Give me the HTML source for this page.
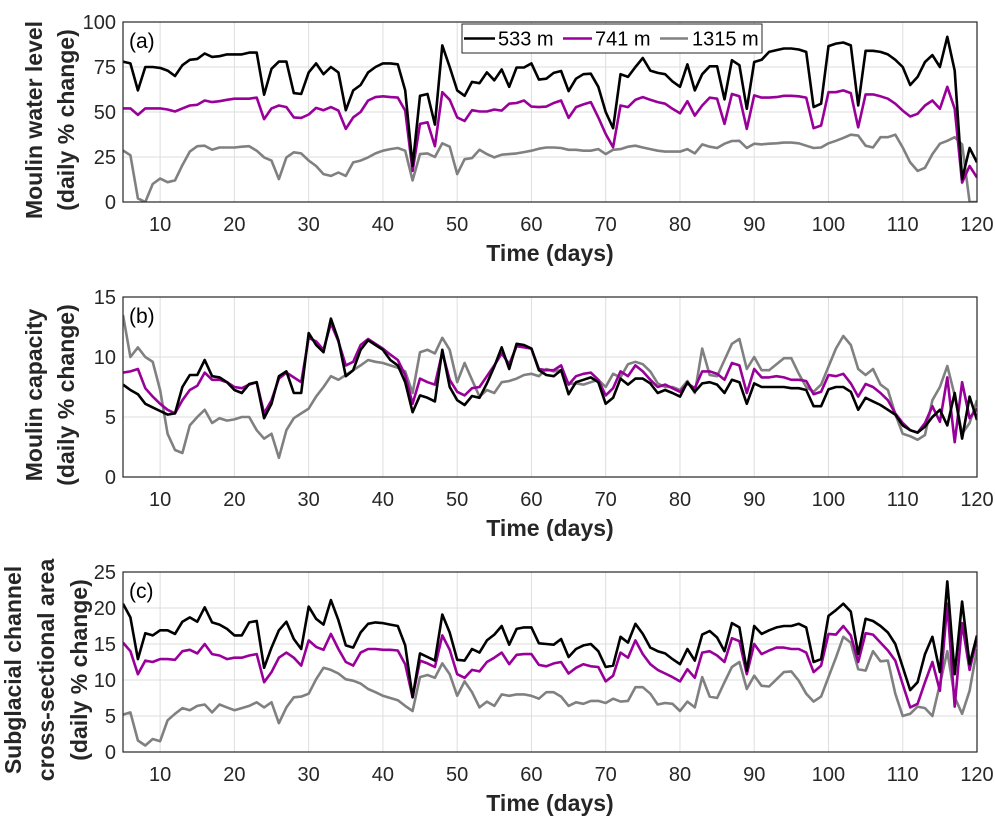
<!DOCTYPE html>
<html><head><meta charset="utf-8"><style>
html,body{margin:0;padding:0;background:#fff;}
svg{display:block;font-family:"Liberation Sans",Arial,sans-serif;}
</style></head><body>
<svg id="chart" width="995" height="819" viewBox="0 0 995 819" xmlns="http://www.w3.org/2000/svg"></svg>
<script>
const xTicks=[10,20,30,40,50,60,70,80,90,100,110,120];
const aTicks=[0,25,50,75,100];
const bTicks=[0,5,10,15];
const cTicks=[0,5,10,15,20,25];
const seriesNames=["533 m","741 m","1315 m"];
const dayStart=5;
const aBlack=[78,77,62,75,75,74.5,73,70,76,79,79.5,82.5,80.6,81,82,82,82,83,83,59.6,74,78,78,60.5,60,72,77,71,75,72,51,62,65,72,75,77,77,76.5,62,20,59,60,43,87,75,62,59,66.7,66,72,67.6,73.6,64,74.7,74.7,77,68,68.5,71.7,72.8,61.6,68.5,71,71.3,64,50,41,71,69.5,75,80,73,71.7,71,67,64,76.5,62,71,75.4,75.4,57,78.8,76,51.8,77.8,79,83.4,84.4,85.3,85.3,84.7,83.4,52.7,54.6,86.6,88,88.6,87,53.6,84,84,83.4,82,79,75,65,69.5,77.8,81.6,75,91.8,73,12.7,30,22];
const aPurple=[52,52,48.4,52,52,52,51.4,50.3,52,53.6,54,56.4,55.5,56,56.8,57.4,57.4,57.4,58,46,52,53.6,52.7,47,46.7,48.6,52.3,51,52.7,50.8,40.6,47,50,56.4,58.3,58.7,58.3,58,50.8,17.3,43.4,44.3,31,61,56.8,47,45,51,50.3,50.3,51.4,50.8,54.6,55,56.4,53,52.7,53,55,56.4,46.7,52.7,54.2,55.5,47,37.8,30.4,53.6,52.7,56.8,58.3,56.8,55.5,54.6,51.8,49.3,56,48,53.6,58,57.4,43.4,60,58.7,40.6,59.2,58,58,58.3,59,59,58.7,58,41,42.5,61,61,62,60.5,41.5,59.8,59.8,58.7,57.4,54.6,50.8,47.5,49,53.6,56.4,51.8,64,51.8,10.8,20,13.6];
const aGray=[28.6,26,2,0,10,13,11,12,20.5,28,31,31.3,29,30.3,30.3,30.3,30.7,31,28.5,24.8,23,12.7,24.8,27.6,27,23,20,15.5,14.5,16.4,14.5,22,23,24.8,27,28.5,29.4,30,28.5,12,26.6,27,25,32.6,30.7,15.5,23.8,24.4,29,26.6,24.8,26.3,26.6,27,27.7,28.5,29.6,30.3,30.3,30,29,29,28.5,28.5,29.4,26.6,29,29.4,30.7,31.3,30.3,29.4,28.5,28,28,28,29.4,27,32,30.7,30,32.4,33.9,34,30,32.4,32,32.4,32.6,33,33,32.6,31.3,30,30.3,32.6,34,35.6,37.4,36.9,31.3,30.3,36,36,37.4,30.3,22,17.3,19,26.6,32.4,34,36,32,0,0,0.5];
const bBlack=[7.7,7.25,6.9,6.1,5.8,5.5,5.2,5.3,7.5,8.5,8.5,9.75,8.4,8.3,7.9,7.25,7,7.75,7.9,4.9,6.1,8.4,8.8,7,7,12,11,10.4,13.2,11.4,8.4,8.9,10.6,11.4,11,10.6,9.75,9.3,7.9,5.4,6.8,6.6,6.3,10.6,7.5,6.4,6,6.75,6.6,7.8,9.2,10.8,9,11.1,11,10.7,8.9,8.5,8.4,8.9,6.9,7.9,8.1,8.3,7.9,6.1,6.6,8.2,7.7,8.2,8.2,7.8,7,7.25,7,6.7,7.9,7.1,7.8,7.9,7.7,7,8.1,7.9,6.1,7.8,7.5,7.5,7.5,7.5,7.4,7.4,7.25,5.9,5.9,7.3,7.5,7.5,7.1,5.6,6.6,6.3,6,5.6,5.2,4.3,3.9,3.7,4.2,5,5.6,4.3,7,3.2,6.7,4.75];
const bPurple=[8.7,8.8,9,7.4,6.7,6.1,5.6,5.3,6.4,7.25,7.6,8.7,8.1,8.1,7.9,7.5,7.4,7.7,7.9,5.3,6.4,8.2,8.7,8.3,7.9,11.6,11.3,10.6,12.8,11.3,9.3,9.6,11,11.5,11.1,10.7,10.2,9.75,8.5,6.1,8.2,7.9,7.7,10.4,8.1,7.1,6.8,7.4,7.5,8.4,9.3,10.3,9.4,10.9,10.8,10.7,9,8.9,8.9,9.3,7.7,8.4,8.6,8.7,8.1,6.8,7.4,8.8,8.4,9.3,8.8,8.1,7.5,7.7,7.4,7.1,7.8,7.4,8.8,8.8,8.6,8.1,9.5,9.3,7,9,8.3,8.3,8.4,8.3,8.1,8.1,8,6.9,7.1,8.5,8.4,8.6,7.8,6.7,7.75,7.5,7,6.4,5.3,4.5,3.9,3.7,4.5,5.9,4.6,8.3,2.9,7.9,4.9,5.7];
const bGray=[13.5,10,10.8,10,9.6,7.25,3.6,2.25,2,4.3,5,5.6,4.5,4.9,4.7,4.8,5,5,3.9,3.2,3.6,1.6,3.9,4.9,5.3,5.7,6.7,7.5,8.4,8.1,8.5,8.9,9.3,9.75,9.6,9.5,9.3,9.1,8.8,7,10.4,10.6,10.3,11.6,10.6,7.9,9.5,8.1,6.7,7.25,7,7.9,8,8.2,8.5,8.6,8.4,9,8.8,8.9,7.75,7.8,7.7,7.9,8.1,7.5,8.6,8.3,9.4,9.6,9.4,8.8,7.8,7.5,7.5,7.25,8,7,10.7,8.5,8.4,9.75,11.1,11.5,9,10,8.9,8.9,9.4,9.9,9.9,8.6,7.5,7.1,7.7,9.2,10.7,11.75,11,9,8.5,9,7.7,7.25,5.25,3.6,3.4,3.1,3.5,6.4,7.5,9.25,6.8,3.6,4.5,6.4];
const cBlack=[20.6,18.7,12.9,16.5,16.2,16.9,16.9,16.4,18.1,18.7,18.1,20.1,18,17.7,17.1,16.2,16.2,18,18.2,11.7,14.5,16.9,18.1,15.7,14.3,20.2,18.5,17.7,21.1,18.3,14.8,14.5,16.6,17.8,18,17.9,17.7,17.5,14.8,7.6,13.7,13.2,12.7,19.1,16.6,12.8,12.7,14.3,13.8,15.5,16.3,17.5,14.9,17.1,17.3,17.3,15.1,15,14.9,15.7,13.2,14.3,14.8,15,14,11.8,12,16,15.2,17.8,16.4,14.5,14,13.7,12.9,12.2,14.3,12.7,16.3,16.8,15.9,14,17.9,17.3,11.3,17.5,16.4,16.9,17.3,17.5,17.5,17.8,17.3,12.5,12.9,18.9,19.7,20.6,19.5,13.6,18.5,18.2,17.5,16.6,15,11.8,8.6,9.7,13.6,16,11.1,23.7,10.8,20.9,12.2,16.2];
const cPurple=[15.2,14,10.8,12.7,12.5,12.9,12.9,12.8,14,14.2,13.7,15,13.6,13.4,12.9,13.1,13.1,13.4,13.6,9.7,11.1,13.1,13.8,13.1,12,15.5,14.6,14.2,16.4,14.3,12.5,12,13.8,14.3,14.3,14.2,14.2,14.1,12.2,7.6,12.7,12.3,11.8,16.2,14.2,10.8,10.3,11.4,11.2,12.5,13.1,13.8,12.2,13.5,13.6,13.6,12.1,11.9,12.3,12.5,10.9,11.7,12.2,11.9,11.8,9.8,10.6,13.8,13.1,15.5,13.6,12.2,11.4,10.9,10.4,9.8,11.5,10.3,13.8,14,13.4,12.5,15.8,15.4,10.8,15,13.6,14.1,14.5,14.5,14.3,14.3,13.8,11.1,12,16.4,16.3,17.5,16.2,12.5,16.5,16.3,15.2,14.1,12.7,9.4,6.2,6.7,9.7,12.5,8.5,20.6,6.3,17.9,11.4,15.8];
const cGray=[5.2,5.5,1.6,0.9,1.8,1.5,4.4,5.3,6.1,5.8,6.4,6.6,5.5,6.6,6.2,5.8,6.1,6.4,6.9,6.2,6.9,4,6.2,7.6,7.7,8.1,10.1,11.7,11.4,10.9,10.1,9.9,9.5,8.75,8.3,7.8,7.5,7.2,6.4,5.7,10.4,10.7,10.3,12.3,10.8,7.8,9.8,8.3,6.2,7,6.4,8,7.8,8,8,7.8,7.4,8.3,8.3,7.7,6.4,6.9,6.7,7.1,7.1,6.8,7.4,7,7.1,9,9,8.1,6.6,6.8,6.7,5.7,7,6.2,10.4,7.7,7.5,9.7,11.8,12.5,8.75,10.6,9.2,9.1,10.1,11.1,11.2,9.9,8.1,7,7.7,10.4,13.1,16,15.2,11.5,11.3,14,12.6,12.7,8.1,5,5.3,6.3,6.1,5,9.4,14,7.6,5.3,8.5,14.3];

const NS="http://www.w3.org/2000/svg";
const svg=document.getElementById('chart');
const X0=123,X1=977;
function xS(d){return X0+(d-5)*(X1-X0)/115;}
function mk(tag,attrs,parent){const e=document.createElementNS(NS,tag);for(const k in attrs)e.setAttribute(k,attrs[k]);(parent||svg).appendChild(e);return e;}
const colors=["#000000","#990099","#808080"];
const panels=[
 {id:"a",top:22,bot:202,max:100,ticks:aTicks,series:[aBlack,aPurple,aGray],ylab:["Moulin water level","(daily % change)"],ylx:[33,65]},
 {id:"b",top:297,bot:477,max:15,ticks:bTicks,series:[bBlack,bPurple,bGray],ylab:["Moulin capacity","(daily % change)"],ylx:[33,65]},
 {id:"c",top:572,bot:752,max:25,ticks:cTicks,series:[cBlack,cPurple,cGray],ylab:["Subglacial channel","cross-sectional area","(daily % change)"],ylx:[12,45,78]}
];
panels.forEach(p=>{
  const yS=v=>p.bot-(v/p.max)*(p.bot-p.top);
  const g=mk('g',{});
  
  
  const clipId='clip'+p.id;
  const cp=mk('clipPath',{id:clipId},g);
  mk('rect',{x:X0,y:p.top,width:X1-X0,height:p.bot-p.top},cp);
  mk('rect',{x:X0,y:p.top,width:X1-X0,height:p.bot-p.top,fill:'#fff'},g);
  xTicks.forEach(t=>{
    const l=mk('line',{x1:xS(t),x2:xS(t),y1:p.top,y2:p.bot,stroke:'#dedede','stroke-width':1},g);
    
    
    const tx=mk('text',{x:xS(t),y:p.bot+29,'text-anchor':'middle','font-size':20,fill:'#262626'},g);
    tx.textContent=t;
    
    
  });
  p.ticks.forEach(t=>{
    const l=mk('line',{x1:X0,x2:X1,y1:yS(t),y2:yS(t),stroke:'#dedede','stroke-width':1},g);
    
    
    const tx=mk('text',{x:X0-7,y:yS(t)+7,'text-anchor':'end','font-size':20,fill:'#262626'},g);
    tx.textContent=t;
    
    
  });
  for(let s=2;s>=0;s--){
    const vals=p.series[s];
    const pts=vals.map((v,i)=>xS(dayStart+i).toFixed(1)+','+yS(v).toFixed(1)).join(' ');
    const pl=mk('polyline',{points:pts,fill:'none',stroke:colors[s],'stroke-width':2.6,'stroke-linejoin':'round','clip-path':'url(#'+clipId+')'},g);
    
    
  }
  const bx=mk('rect',{x:X0,y:p.top,width:X1-X0,height:p.bot-p.top,fill:'none',stroke:'#262626','stroke-width':1.2},g);
  
  
  const pl=mk('text',{x:X0+6,y:p.top+26,'font-size':21,fill:'#000'},g);
  pl.textContent='('+p.id+')';
  
  
  const xl=mk('text',{x:550,y:p.bot+59,'text-anchor':'middle','font-size':23,'font-weight':'bold',fill:'#262626'},g);
  xl.textContent='Time (days)';
  
  
  const cy=(p.top+p.bot)/2+8;
  p.ylab.forEach((t,i)=>{
    const yl=mk('text',{x:0,y:0,'text-anchor':'middle','font-size':23,'font-weight':'bold',fill:'#262626',transform:'translate('+(p.ylx[i]+9)+','+cy+') rotate(-90)'},g);
    yl.textContent=t;
    
    
  });
});
const lg=mk('g',{});


mk('rect',{x:462,y:24,width:300,height:29,fill:'#fff',stroke:'#262626','stroke-width':1},lg);
const lx=[[464,495,498],[563,592,595],[660,688,692]];
lx.forEach((p,i)=>{
  const e=mk('g',{},lg);
  
  
  mk('line',{x1:p[0],x2:p[1],y1:38.5,y2:38.5,stroke:colors[i],'stroke-width':2.6},e);
  const t=mk('text',{x:p[2],y:45.5,'font-size':20,fill:'#000'},e);
  t.textContent=seriesNames[i];
});
</script>
</body></html>
